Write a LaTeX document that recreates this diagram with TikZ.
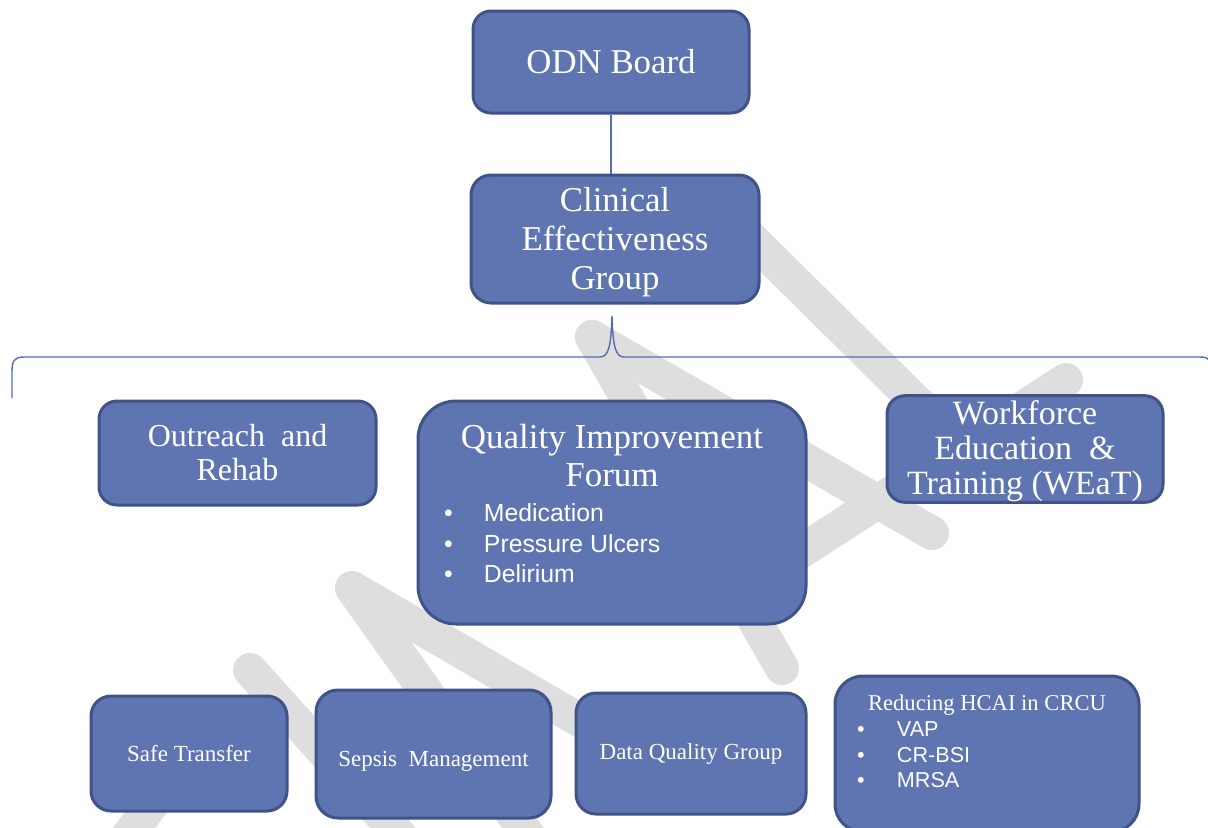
\documentclass[tikz,border=0pt]{standalone}
\usepackage{fontspec}
\setmainfont{Liberation Serif}
\newfontfamily\listfont{Liberation Sans}
\usetikzlibrary{positioning}

\definecolor{boxblue}{RGB}{95,117,178}
\definecolor{boxedge}{RGB}{64,82,136}
\definecolor{linkblue}{RGB}{84,108,178}
\definecolor{draftgray}{RGB}{222,222,222}

\tikzset{
  box/.style={rectangle,rounded corners=9pt,draw=boxedge,line width=1.5pt,
    fill=boxblue,text=white,align=center,inner sep=0pt},
  bigtext/.style={font=\fontsize{17.4}{19.5}\selectfont},
  smalltext/.style={font=\fontsize{11.5}{13}\selectfont},
  draft/.style={draftgray,line width=17pt,line cap=round,line join=round},
  link/.style={linkblue,line width=0.7pt},
}

\begin{document}
\begin{tikzpicture}[x=0.5pt,y=-0.5pt]
\useasboundingbox (0,0) rectangle (1208,827);
\clip (0,0) rectangle (1208,827);

% draft watermark
\draw[draft] (592,337) -- (932,533);
\draw[draft] (592,337) -- (782,668);
\draw[draft] (712,200) -- (955,440);
\draw[draft] (1066,380) -- (780,565);
\draw[draft] (352,588) -- (700,790);
\draw[draft] (352,588) -- (560,880);
\draw[draft] (250,670) -- (440,880);
\draw[draft] (200,740) -- (110,860);

% top
\node[box,bigtext,minimum width=138pt,minimum height=51pt] (odn) at (611,62) {ODN Board};
\node[box,bigtext,minimum width=144pt,minimum height=64pt,rounded corners=10pt] (ceg) at (615,239)
  {\rule{0pt}{14.7pt}Clinical\\Effectiveness\\Group};

% brace
\coordinate (bl) at (12,398);
\coordinate (tip) at (612,316);
\coordinate (br) at (1212,398);

% middle row
\node[box,font=\fontsize{16}{17}\selectfont,minimum width=138.5pt,minimum height=52pt] (orh) at (237.5,453)
  {Outreach~ and\\Rehab};
\node[box,font=\fontsize{17.5}{19}\selectfont,minimum width=194pt,minimum height=111.5pt,rounded corners=19pt] (qif) at (612,512.5)
  {Quality Improvement\\Forum\\[-1.5pt]
   {\listfont\fontsize{12.4}{15.25}\selectfont
   \begin{tabular}[t]{@{}p{20pt}@{}p{148pt}@{}}
   \textbullet & Medication\\
   \textbullet & Pressure Ulcers\\
   \textbullet & Delirium\rule[-9pt]{0pt}{9pt}
   \end{tabular}}};
\node[box,font=\fontsize{17}{17.5}\selectfont,minimum width=138pt,minimum height=52pt] (weat) at (1025,449)
  {\rule{0pt}{14.6pt}Workforce\\Education~ \&\\Training (WEaT)};

% bottom row
\node[box,smalltext,minimum width=98pt,minimum height=57.5pt,rounded corners=10pt] (saf) at (189,753.5) {Safe Transfer};
\node[box,smalltext,minimum width=117.5pt,minimum height=64pt,rounded corners=11pt] (sep) at (433.5,754) {\rule{0pt}{14.5pt}Sepsis~ Management};
\node[box,smalltext,minimum width=115pt,minimum height=60.5pt,rounded corners=10pt] (dqg) at (691,753.5) {Data Quality Group};
\node[box,font=\fontsize{11.3}{13}\selectfont,minimum width=152pt,minimum height=78pt,rounded corners=14pt] (hcai) at (987,754)
  {Reducing HCAI in CRCU\\
   {\listfont\fontsize{10.8}{12.75}\selectfont
   \begin{tabular}[t]{@{}p{20pt}@{}p{110pt}@{}}
   \textbullet & VAP\\
   \textbullet & CR-BSI\\
   \textbullet & MRSA\rule[-12.75pt]{0pt}{12.75pt}
   \end{tabular}}};

% connectors
\draw[link] (odn.south) -- (odn.south |- ceg.north);
\draw[link] (bl) -- (12,372) .. controls (12,361) and (14,357) .. (24,357)
  -- (600,357) .. controls (609,357) and (611,345) .. (tip)
  .. controls (613,345) and (615,357) .. (624,357)
  -- (1200,357) .. controls (1210,357) and (1212,361) .. (1212,372) -- (br);

\end{tikzpicture}
\end{document}
